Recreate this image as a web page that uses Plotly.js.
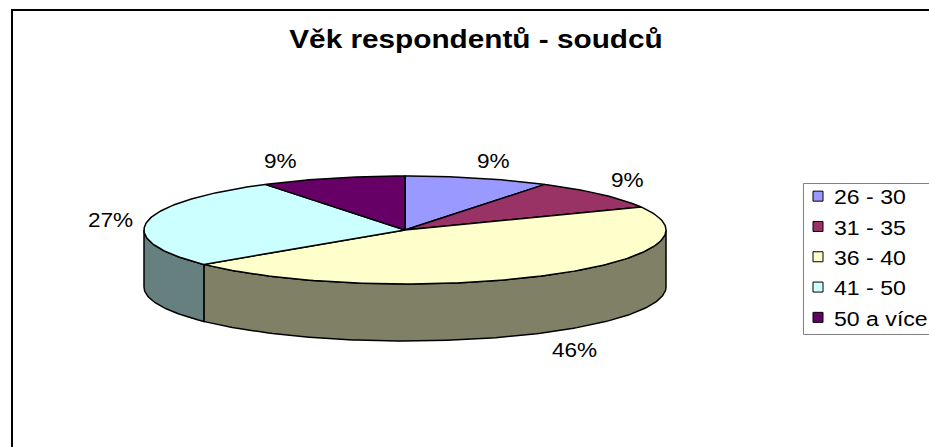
<!DOCTYPE html>
<html>
<head>
<meta charset="utf-8">
<script src="https://cdn.plot.ly/plotly-3.0.1.min.js"></script>
<style>
html,body{margin:0;padding:0;background:#fff}
#chart{width:929px;height:447px}
.gtitle{transform-box:fill-box;transform-origin:center;transform:scaleX(1.19)}
.annotation-text{transform-box:fill-box;transform-origin:center;transform:scaleX(1.13)}
.legendtext{transform-box:fill-box;transform-origin:left center;transform:scaleX(1.1)}
.legendsymbols{transform:translateX(4px)}
</style>
</head>
<body>
<div id="chart"></div>
<script>
const chartTitle = 'Věk respondentů - soudců';
const categories = ['26 - 30', '31 - 35', '36 - 40', '41 - 50', '50 a více'];
const percents = [9, 9, 46, 27, 9];

const topColors = ['#9999FF', '#993366', '#FFFFCC', '#CCFFFF', '#660066'];
const sideColors = ['#4D4D80', '#4D1A33', '#808066', '#668080', '#330033'];
const labelPlaces = [[493, 161], [627, 180], [574, 350], [110, 220], [280, 161]];

const cx = 405, cy = 230, rx = 261, ry = 54, depth = 57;
const FONT = '"Liberation Sans", Arial, sans-serif';

const rad = d => d * Math.PI / 180;
const px = d => cx + rx * Math.sin(rad(d));
const py = (d, dy) => cy + dy - ry * Math.cos(rad(d));

function arc(from, to, dy) {
  const xs = [], ys = [];
  const n = Math.max(2, Math.ceil(Math.abs(to - from)));
  for (let i = 0; i <= n; i++) {
    const d = from + (to - from) * i / n;
    xs.push(px(d)); ys.push(py(d, dy));
  }
  return [xs, ys];
}

const total = percents.reduce((a, b) => a + b, 0);
let acc = 0;
const spans = percents.map(p => {
  const s = [acc / total * 360, (acc + p) / total * 360];
  acc += p;
  return s;
});

const traces = [];
const poly = (x, y, color) => traces.push({
  type: 'scatter', mode: 'lines', x, y, fill: 'toself', fillcolor: color,
  line: {color: '#000', width: 1.5}, hoverinfo: 'skip', showlegend: false
});

// legend entries
categories.forEach((name, i) => traces.push({
  type: 'scatter', mode: 'markers', name, x: [cx], y: [cy], hoverinfo: 'skip',
  marker: {symbol: 'square', size: 10, color: topColors[i], line: {color: '#000', width: 1}}
}));

// visible outer walls: front half of the rim only
spans.forEach((s, i) => {
  const a = Math.max(s[0], 90), b = Math.min(s[1], 270);
  if (a >= b) return;
  const [tx, ty] = arc(a, b, 0);
  const [bx, by] = arc(b, a, depth);
  poly(tx.concat(bx, tx[0]), ty.concat(by, ty[0]), sideColors[i]);
});

// top wedges
spans.forEach((s, i) => {
  const [ax, ay] = arc(s[0], s[1], 0);
  poly([cx].concat(ax, cx), [cy].concat(ay, cy), topColors[i]);
});

const annotations = percents.map((p, i) => ({
  xref: 'x', yref: 'y', x: labelPlaces[i][0], y: labelPlaces[i][1],
  text: p + '%', showarrow: false, xanchor: 'center', yanchor: 'middle',
  font: {family: FONT, size: 20, color: '#000'}
}));

const layout = {
  width: 929, height: 447,
  margin: {l: 0, r: 0, t: 0, b: 0, autoexpand: false},
  paper_bgcolor: '#fff', plot_bgcolor: '#fff',
  font: {family: FONT, color: '#000'},
  title: {
    text: '<b>' + chartTitle + '</b>', font: {family: FONT, size: 25, color: '#000'},
    x: 476 / 929, xanchor: 'center', y: 1 - 39 / 447, yanchor: 'middle'
  },
  xaxis: {range: [0, 929], visible: false, fixedrange: true},
  yaxis: {range: [447, 0], visible: false, fixedrange: true},
  legend: {
    x: 803 / 929, xanchor: 'left', y: 1 - 176 / 447, yanchor: 'top',
    bgcolor: 'rgba(0,0,0,0)', borderwidth: 0,
    font: {family: FONT, size: 21, color: '#000'},
    indentation: -9, traceorder: 'normal', entrywidth: 120, entrywidthmode: 'pixels'
  },
  shapes: [
    {type: 'line', xref: 'paper', yref: 'paper', x0: 12 / 929, x1: 12 / 929, y0: 0, y1: 1 - 10 / 447, line: {color: '#000', width: 2}},
    {type: 'line', xref: 'paper', yref: 'paper', x0: 11 / 929, x1: 1, y0: 1 - 10 / 447, y1: 1 - 10 / 447, line: {color: '#000', width: 2}},
    {type: 'rect', xref: 'x', yref: 'y', x0: 803.5, x1: 940, y0: 183.5, y1: 334.5, fillcolor: '#fff', line: {color: '#808080', width: 1}, layer: 'below'}
  ],
  annotations
};

Plotly.newPlot('chart', traces, layout, {displayModeBar: false, staticPlot: true});
</script>
</body>
</html>
